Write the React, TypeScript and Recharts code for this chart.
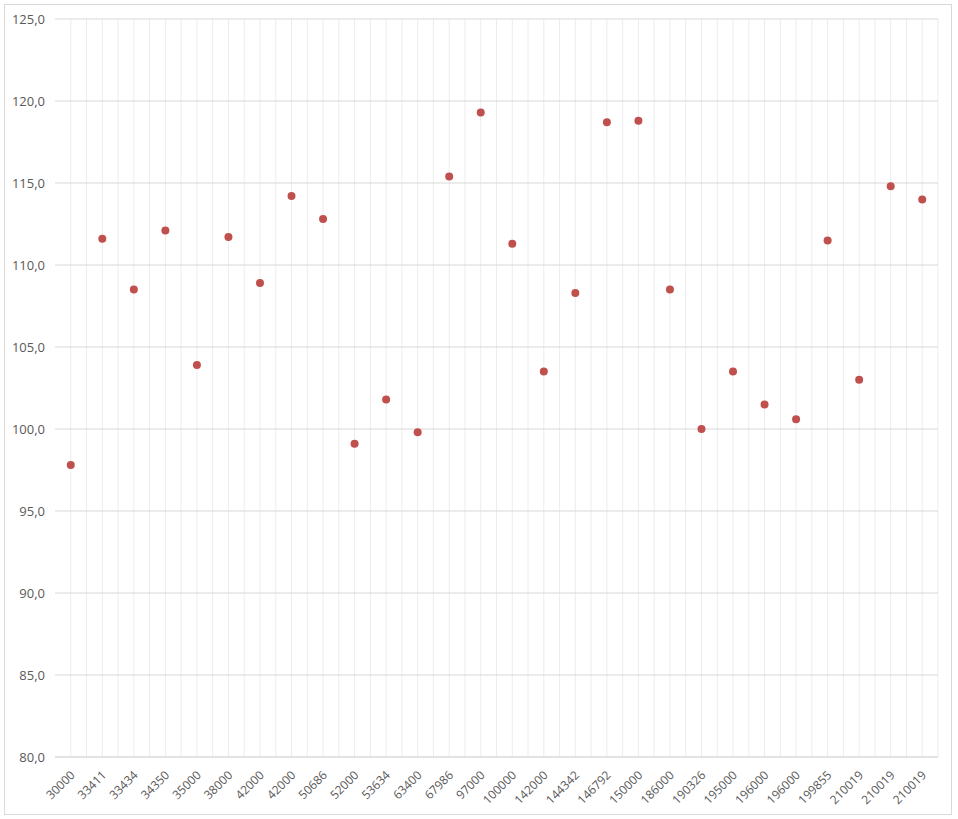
import { LineChart, Line, XAxis, YAxis, CartesianGrid } from "recharts";

const categories = [
  "30000", "33411", "33434", "34350", "35000", "38000", "42000", "42000",
  "50686", "52000", "53634", "63400", "67986", "97000", "100000", "142000",
  "144342", "146792", "150000", "186000", "190326", "195000", "196000",
  "196000", "199855", "210019", "210019", "210019",
];

const values = [
  97.8, 111.6, 108.5, 112.1, 103.9, 111.7, 108.9, 114.2, 112.8, 99.1, 101.8,
  99.8, 115.4, 119.3, 111.3, 103.5, 108.3, 118.7, 118.8, 108.5, 100.0, 103.5,
  101.5, 100.6, 111.5, 103.0, 114.8, 114.0,
];

const yTicks = [80, 85, 90, 95, 100, 105, 110, 115, 120, 125];

const data = categories.map((c, i) => ({ i, label: c, value: values[i] }));

const FONT = "'Open Sans', 'Liberation Sans', sans-serif";
const TEXT = "#595959";
const PLOT_W = 958 - 55 - 20;
const HALF = PLOT_W / (categories.length * 2);

function XTick({ x, y, payload }: { x?: number; y?: number; payload?: { value: number } }) {
  const label = categories[payload?.value ?? 0];
  return (
    <g transform={`translate(${(x ?? 0) + 2},${(y ?? 0) + 8})`}>
      <text
        x={0}
        y={0}
        dy={4}
        textAnchor="end"
        transform="rotate(-45)"
        fontSize={12}
        fontFamily={FONT}
        fill={TEXT}
      >
        {label}
      </text>
    </g>
  );
}

export default function App() {
  const W = 958;
  const H = 819;
  return (
    <div style={{ position: "absolute", left: 0, top: 0, width: W, height: H, background: "#fff" }}>
      <div
        style={{
          position: "absolute",
          left: 4,
          top: 4,
          width: 946,
          height: 809,
          border: "1px solid #d9d9d9",
        }}
      />
      <div style={{ position: "absolute", left: 0, top: 0 }}>
        <LineChart
          width={W}
          height={H}
          data={data}
          margin={{ top: 19, right: 20, bottom: 0, left: 0 }}
        >
          <CartesianGrid
            stroke="#ececec"
            horizontal={false}
            verticalCoordinatesGenerator={({ offset }: any) => {
              const out: number[] = [];
              const n = categories.length * 2;
              for (let k = 1; k <= n; k++) out.push(offset.left + (k * offset.width) / n);
              return out;
            }}
            syncWithTicks={false}
          />
          <CartesianGrid stroke="#d9d9d9" vertical={false} />
          <XAxis
            dataKey="i"
            type="category"
            height={62}
            interval={0}
            padding={{ left: HALF, right: HALF }}
            tickLine={false}
            axisLine={{ stroke: "#d9d9d9" }}
            tick={<XTick />}
          />
          <YAxis
            type="number"
            domain={[80, 125]}
            ticks={yTicks}
            width={55}
            axisLine={false}
            tickLine={false}
            tickMargin={4}
            tickFormatter={(v: number) => v.toFixed(1).replace(".", ",")}
            tick={{ fontSize: 13, fontFamily: FONT, fill: TEXT }}
          />
          <Line
            dataKey="value"
            stroke="none"
            isAnimationActive={false}
            dot={{ r: 4, fill: "#c0504d", stroke: "#c0504d", strokeWidth: 0 }}
            activeDot={false}
          />
        </LineChart>
      </div>
    </div>
  );
}
